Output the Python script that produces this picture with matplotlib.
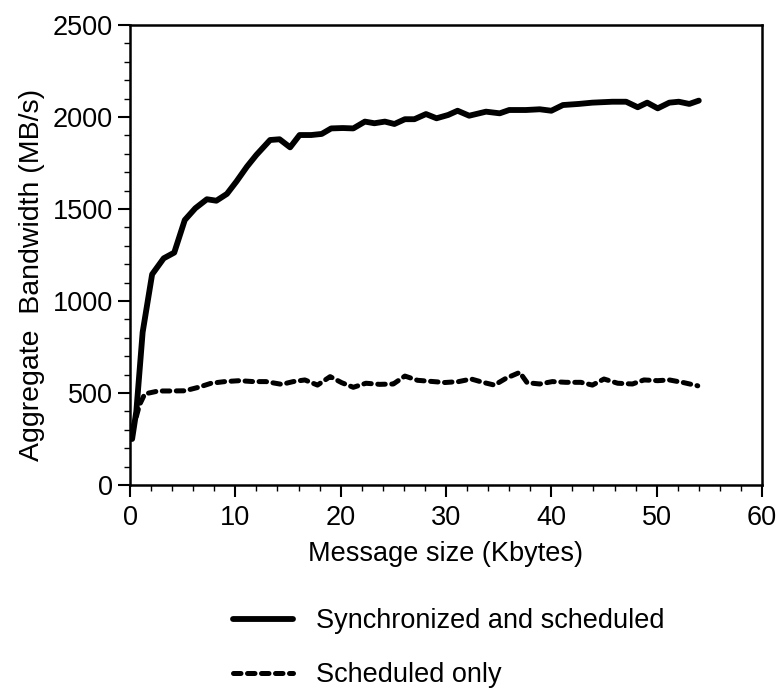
import matplotlib
matplotlib.use("Agg")
import matplotlib.pyplot as plt
from matplotlib.ticker import MultipleLocator

plt.rcParams['font.family'] = ['Liberation Sans', 'DejaVu Sans']

# Synchronized and scheduled
sync_x = [0.2, 0.6, 1.2, 2.1, 3.2, 4.2, 5.2, 6.2, 7.3, 8.2, 9.2, 10.1, 11.1, 12.0,
          13.3, 14.2, 15.2, 16.1, 17.2, 18.2, 19.1, 20.2, 21.2, 22.3, 23.2, 24.2,
          25.1, 26.1, 27.0, 28.1, 29.1, 30.2, 31.1, 32.2, 33.8, 35.1, 36.0, 37.6,
          38.9, 40.0, 41.1, 42.6, 43.9, 45.8, 47.1, 48.2, 49.1, 50.1, 51.2, 52.1,
          53.1, 54.0]
sync_y = [250, 400, 830, 1145, 1232, 1263, 1440, 1504, 1553, 1545, 1582, 1649, 1730, 1794,
          1875, 1879, 1835, 1902, 1902, 1908, 1938, 1940, 1938, 1975, 1966, 1975,
          1962, 1988, 1988, 2016, 1993, 2011, 2034, 2007, 2029, 2020, 2038, 2038,
          2042, 2034, 2065, 2071, 2078, 2083, 2083, 2053, 2078, 2047, 2078, 2083,
          2071, 2089]

# Scheduled only
sched_x = [0.2, 0.6, 0.9, 1.4, 2.7, 3.8, 5.2, 6.5, 7.7, 9.0, 10.4, 11.7, 12.9, 14.4,
           15.5, 16.6, 17.8, 19.0, 20.1, 21.2, 22.4, 23.7, 25.0, 26.1, 27.3, 28.6,
           29.9, 31.2, 32.4, 33.5, 34.6, 35.7, 37.0, 37.7, 38.9, 40.1, 41.4, 42.8,
           43.9, 45.0, 46.3, 47.7, 48.8, 50.1, 51.2, 52.6, 53.9]
sched_y = [300, 371, 435, 495, 511, 511, 512, 531, 553, 562, 567, 562, 562, 547,
           562, 571, 543, 589, 556, 531, 553, 547, 549, 592, 569, 563,
           557, 562, 576, 558, 543, 580, 612, 556, 549, 562, 558, 558,
           543, 576, 553, 549, 571, 567, 571, 556, 539]

labels = ["Synchronized and scheduled", "Scheduled only"]
xticks = [0, 10, 20, 30, 40, 50, 60]
yticks = [0, 500, 1000, 1500, 2000, 2500]

FS = 19.5
W, H = 778, 688
fig = plt.figure(figsize=(W / 100, H / 100), dpi=100)
ax = fig.add_axes([130 / W, 1 - 485 / H, 632 / W, 460 / H])

l1, = ax.plot(sync_x, sync_y, color='black', lw=4.2, solid_joinstyle='round',
              solid_capstyle='round', label=labels[0])
l2, = ax.plot(sched_x, sched_y, color='black', lw=3.6, linestyle=(0, (1.5, 1.3)),
              dash_capstyle='round', label=labels[1])

ax.set_xlim(0, 60)
ax.set_ylim(0, 2500)
ax.set_xticks(xticks)
ax.set_yticks(yticks)
ax.xaxis.set_minor_locator(MultipleLocator(2))
ax.yaxis.set_minor_locator(MultipleLocator(100))
ax.tick_params(which='major', direction='out', length=8.5, width=1.5, labelsize=FS,
               top=False, right=False)
ax.tick_params(axis='x', which='major', pad=6)
ax.tick_params(axis='y', which='major', pad=4)
ax.tick_params(which='minor', direction='out', length=4.5, width=1.0, top=False, right=False)
for s in ax.spines.values():
    s.set_linewidth(1.8)

ax.set_xlabel("Message size (Kbytes)", fontsize=FS, labelpad=7)
ax.set_ylabel("Aggregate  Bandwidth (MB/s)", fontsize=20.5)
ax.yaxis.set_label_coords(-0.135, 0.457)

fig.legend(handles=[l1, l2], labels=labels, loc='upper left',
           bbox_to_anchor=(233 / W, 1 - 608 / H), frameon=False, fontsize=FS,
           borderpad=0, borderaxespad=0,
           handlelength=2.2, handletextpad=0.85, labelspacing=1.05)

fig.savefig("out.png", dpi=100)
